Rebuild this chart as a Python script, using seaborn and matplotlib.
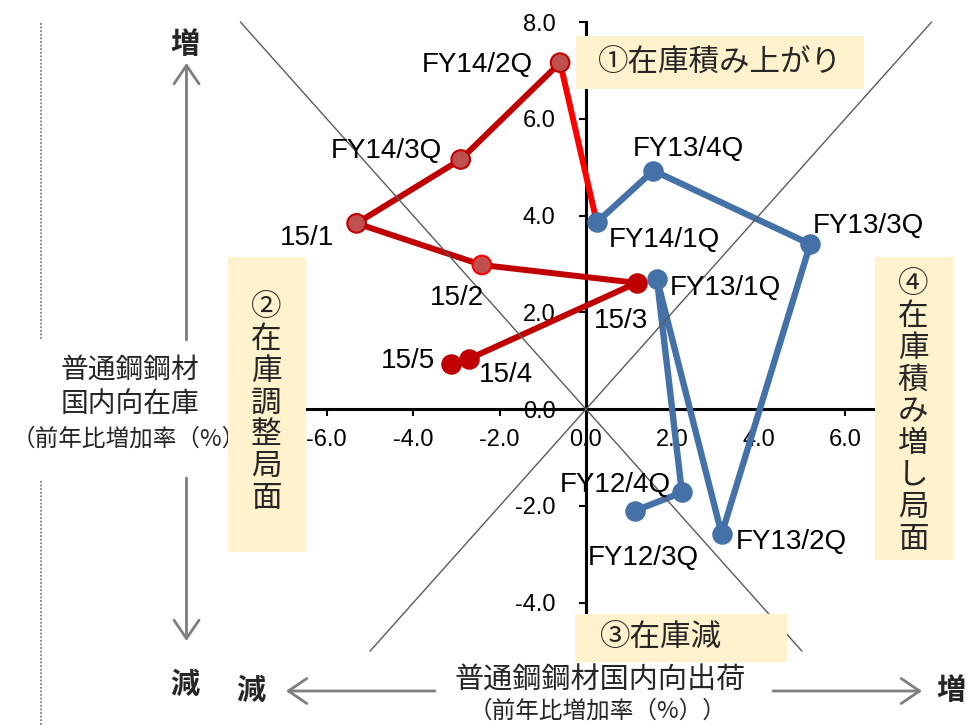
import matplotlib
matplotlib.use("Agg")
import matplotlib.pyplot as plt
import seaborn as sns
import pandas as pd
from matplotlib.patches import Rectangle

# ---------------- data ----------------
blue_labels = ["FY12/3Q", "FY12/4Q", "FY13/1Q", "FY13/2Q", "FY13/3Q", "FY13/4Q", "FY14/1Q"]
blue_x = [1.13, 2.22, 1.64, 3.14, 5.19, 1.56, 0.25]
blue_y = [-2.10, -1.72, 2.70, -2.58, 3.41, 4.93, 3.86]

red_labels = ["FY14/2Q", "FY14/3Q", "15/1", "15/2", "15/3", "15/4", "15/5"]
red_x = [-0.60, -2.90, -5.31, -2.41, 1.17, -2.71, -3.13]
red_y = [7.16, 5.16, 3.84, 2.98, 2.61, 1.04, 0.94]

x_ticks = [-6.0, -4.0, -2.0, 0.0, 2.0, 4.0, 6.0]
y_ticks = [-4.0, -2.0, 0.0, 2.0, 4.0, 6.0, 8.0]

# ---------------- style ----------------
sns.set_theme(style="white")
LATIN = ["Liberation Sans", "DejaVu Sans"]
CJK = ["Noto Sans CJK JP", "DejaVu Sans"]
plt.rcParams["font.family"] = LATIN

BLUE = "#4471A7"
DRED = "#C00000"
BRED = "#FF0000"
LRED = "#C0504D"
BOX = "#FFF2CC"
GRAY = "#7F7F7F"

W, H = 968, 725
fig = plt.figure(figsize=(W / 100, H / 100), dpi=100)

X0, SX = 586.0, 43.2
Y0, SY = 409.2, 48.4
XL = (-8.6, 8.8)
YL = (-5.2, 8.25)
ax = fig.add_axes([(X0 + XL[0] * SX) / W, 1 - (Y0 - YL[0] * SY) / H,
                   (XL[1] - XL[0]) * SX / W, (YL[1] - YL[0]) * SY / H])
ax.patch.set_visible(False)


def fx(px):
    return px / W


def fy(py):
    return 1 - py / H


df_blue = pd.DataFrame({"x": blue_x, "y": blue_y, "label": blue_labels})
df_red = pd.DataFrame({"x": red_x, "y": red_y, "label": red_labels})
df_link = pd.DataFrame({"x": [blue_x[-1], red_x[0]], "y": [blue_y[-1], red_y[0]]})

# lines
sns.lineplot(data=df_blue, x="x", y="y", sort=False, estimator=None, color=BLUE,
             lw=4.6, ax=ax, zorder=2)
sns.lineplot(data=df_link, x="x", y="y", sort=False, estimator=None, color=BRED,
             lw=4.3, ax=ax, zorder=2)
sns.lineplot(data=df_red, x="x", y="y", sort=False, estimator=None, color=DRED,
             lw=4.3, ax=ax, zorder=2)

# diagonal guide lines
ax.plot([-8, 5], [8, -5], color="#5A5A5A", lw=1.0, zorder=2.5)
ax.plot([-5, 8], [-5, 8], color="#5A5A5A", lw=1.0, zorder=2.5)

# markers
sns.scatterplot(data=df_blue, x="x", y="y", s=190, color=BLUE, edgecolor=BLUE,
                linewidth=1, ax=ax, zorder=3)
light = df_red.iloc[:4]
dark = df_red.iloc[4:]
sns.scatterplot(data=light, x="x", y="y", s=180, color=LRED,
                edgecolor=[DRED, DRED, DRED, BRED], linewidth=1.5, ax=ax, zorder=3)
sns.scatterplot(data=dark, x="x", y="y", s=190, color=DRED, edgecolor=DRED,
                linewidth=1, ax=ax, zorder=3)

# point labels (offset in pixels, alignment)
label_pos = {
    "FY12/3Q": (8, -47, "center"),
    "FY12/4Q": (-11, 7, "right"),
    "FY13/1Q": (13, -9, "left"),
    "FY13/2Q": (14, -8, "left"),
    "FY13/3Q": (3, 18, "left"),
    "FY13/4Q": (35, 22, "center"),
    "FY14/1Q": (12, -18, "left"),
    "FY14/2Q": (-27, -2, "right"),
    "FY14/3Q": (-19, 8, "right"),
    "15/1": (-22, -15, "right"),
    "15/2": (2, -33, "right"),
    "15/3": (12, -38, "right"),
    "15/4": (10, -16, "left"),
    "15/5": (-16, 3, "right"),
}
for df in (df_blue, df_red):
    for _, r in df.iterrows():
        dx, dy, ha = label_pos[r["label"]]
        ax.annotate(r["label"], (r["x"], r["y"]), xytext=(dx, dy),
                    textcoords="offset pixels", ha=ha, va="center",
                    fontsize=20, color="black", zorder=5, family=LATIN)

# axes, spines, ticks
ax.set_xlim(XL)
ax.set_ylim(YL)
ax.set_xlabel("")
ax.set_ylabel("")
for s in ("top", "right"):
    ax.spines[s].set_visible(False)
ax.spines["left"].set_position(("data", 0))
ax.spines["bottom"].set_position(("data", 0))
ax.spines["left"].set_bounds(-5.0, 8.0)
ax.spines["bottom"].set_bounds(-6.5, 6.68)
for s in ("left", "bottom"):
    ax.spines[s].set_color("black")
    ax.spines[s].set_linewidth(2.2)
    ax.spines[s].set_zorder(1)
ax.set_xticks(x_ticks)
ax.set_xticklabels([f"{v:.1f}" for v in x_ticks])
ax.set_yticks(y_ticks)
ax.set_yticklabels([f"{v:.1f}" for v in y_ticks])
ax.tick_params(axis="x", direction="out", length=5, width=1.5, pad=9,
               labelsize=17, colors="black", bottom=True)
ax.tick_params(axis="y", direction="out", length=5, width=1.5, pad=17,
               labelsize=17, colors="black", left=True)
ax.grid(False)

# ---------------- boxes and phase labels ----------------
def box(x0, y0, x1, y1):
    fig.add_artist(Rectangle((fx(x0), fy(y1)), (x1 - x0) / W, (y1 - y0) / H,
                             transform=fig.transFigure, facecolor=BOX,
                             edgecolor="none", zorder=10))

box(576, 36, 864, 89)
box(228, 257, 306, 552)
box(575, 614, 787, 662)
box(875, 257, 953, 560)

fig.text(fx(720), fy(62), "①在庫積み上がり", fontsize=22, ha="center", va="center",
         family=CJK, zorder=11)
fig.text(fx(266), fy(403), "\n".join("②在庫調整局面"), fontsize=22, ha="center",
         va="center", linespacing=1.04, family=CJK, zorder=11)
fig.text(fx(600), fy(638), "③在庫減", fontsize=22, ha="left", va="center",
         family=CJK, zorder=11)
fig.text(fx(913), fy(412), "\n".join("④在庫積み増し局面"), fontsize=22, ha="center",
         va="center", linespacing=1.04, family=CJK, zorder=11)

# ---------------- outer axis annotations ----------------
arrow_kw = dict(arrowstyle="->,head_length=1.1,head_width=0.75", color=GRAY, lw=2.0,
                shrinkA=0, shrinkB=0)
ax.annotate("", xy=(fx(186.5), fy(63)), xytext=(fx(186.5), fy(340)),
            xycoords="figure fraction", textcoords="figure fraction",
            arrowprops=arrow_kw, annotation_clip=False)
ax.annotate("", xy=(fx(186.5), fy(641)), xytext=(fx(186.5), fy(478)),
            xycoords="figure fraction", textcoords="figure fraction",
            arrowprops=arrow_kw, annotation_clip=False)
ax.annotate("", xy=(fx(286), fy(691)), xytext=(fx(435), fy(691)),
            xycoords="figure fraction", textcoords="figure fraction",
            arrowprops=arrow_kw, annotation_clip=False)
ax.annotate("", xy=(fx(922), fy(691)), xytext=(fx(773), fy(691)),
            xycoords="figure fraction", textcoords="figure fraction",
            arrowprops=arrow_kw, annotation_clip=False)

fig.text(fx(185), fy(44), "増", fontsize=21, fontweight="bold", ha="center",
         va="center", family=CJK)
fig.text(fx(185), fy(684), "減", fontsize=21, fontweight="bold", ha="center",
         va="center", family=CJK)
fig.text(fx(251), fy(690), "減", fontsize=21, fontweight="bold", ha="center",
         va="center", family=CJK)
fig.text(fx(951), fy(690), "増", fontsize=21, fontweight="bold", ha="center",
         va="center", family=CJK)

fig.text(fx(130), fy(370), "普通鋼鋼材", fontsize=20, ha="center", va="center",
         family=CJK)
fig.text(fx(130), fy(404), "国内向在庫", fontsize=20, ha="center", va="center",
         family=CJK)
fig.text(fx(12), fy(439), "（前年比増加率（%））", fontsize=17, ha="left", va="center",
         family=CJK)

fig.text(fx(600), fy(681), "普通鋼鋼材国内向出荷", fontsize=21, ha="center",
         va="center", family=CJK)
fig.text(fx(598), fy(711), "（前年比増加率（%））", fontsize=17, ha="center",
         va="center", family=CJK)

# dotted slide separator on the left
for y0, y1 in ((23, 340), (481, 725)):
    fig.add_artist(plt.Line2D([fx(41), fx(41)], [fy(y0), fy(y1)],
                              transform=fig.transFigure, color=GRAY, lw=1.3,
                              ls=(0, (1, 1))))

fig.savefig("out.png", dpi=100)
